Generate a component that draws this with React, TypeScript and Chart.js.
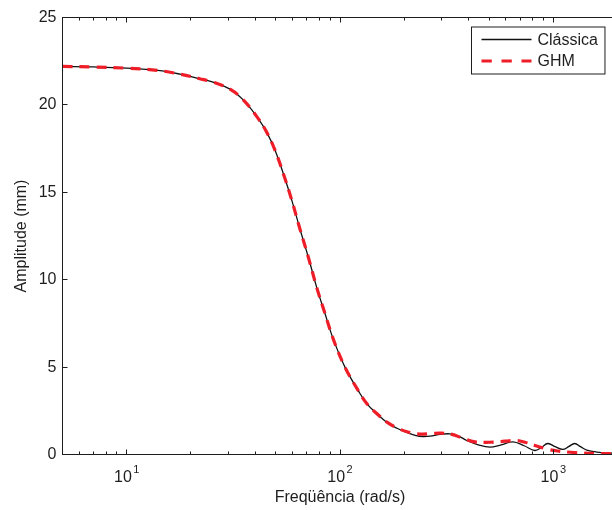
import React, { useEffect, useRef } from "react";
import { Chart, registerables } from "chart.js";

Chart.register(...registerables);

// ---- data ----
const classicaFreq = [
  5, 7, 10, 14, 17.8, 22, 25.4, 30.5, 35.1, 40.9, 45.5, 49.6, 54.3, 59.4, 64.9, 71, 77.8,
  85.1, 93, 105.5, 121.8, 133.8, 150, 166, 185, 206, 225, 245, 270, 294, 327.5, 360, 393,
  445, 504, 570, 646, 730, 819, 880, 942, 1020, 1108, 1180, 1261, 1340, 1436, 1600, 1879,
  2000,
];
const classicaAmp = [
  22.2, 22.17, 22.1, 21.97, 21.76, 21.5, 21.3, 20.9, 20.3, 19.3, 18.4, 17.4, 16.05, 14.55,
  12.9, 11.3, 9.55, 8.05, 6.6, 5.0, 3.65, 2.9, 2.3, 1.83, 1.5, 1.26, 1.1, 1.03, 1.07, 1.15,
  1.18, 1.05, 0.8, 0.55, 0.42, 0.55, 0.72, 0.5, 0.23, 0.4, 0.63, 0.45, 0.29, 0.45, 0.63,
  0.45, 0.25, 0.14, 0.08, 0.07,
];
const ghmFreq = [
  5, 7, 10, 14, 17.8, 22, 25.4, 30.5, 35.1, 40.9, 45.5, 49.6, 54.3, 59.4, 64.9, 71, 77.8,
  85.1, 93, 105.5, 121.8, 133.8, 150, 166, 185, 206, 225, 245, 270, 300, 335, 373, 429, 504,
  593, 675, 736, 819, 942, 1050, 1261, 1598, 2000,
];
const ghmAmp = [
  22.2, 22.17, 22.1, 21.97, 21.76, 21.5, 21.3, 20.9, 20.3, 19.3, 18.4, 17.4, 16.05, 14.55,
  12.9, 11.3, 9.55, 8.05, 6.6, 5.0, 3.65, 2.9, 2.3, 1.85, 1.52, 1.3, 1.2, 1.17, 1.2, 1.22,
  1.15, 0.95, 0.72, 0.7, 0.76, 0.8, 0.7, 0.52, 0.3, 0.2, 0.11, 0.06, 0.05,
];
const seriesLabels = ["Clássica", "GHM"];
const yTicks = [0, 5, 10, 15, 20, 25];
const xMajorTicks = [10, 100, 1000];
const xMinorTicks = [
  5, 6, 7, 8, 9, 20, 30, 40, 50, 60, 70, 80, 90, 200, 300, 400, 500, 600, 700, 800, 900, 2000,
];
const xTitle = "Freqüência (rad/s)";
const yTitle = "Amplitude (mm)";

const FONT = '"Liberation Sans", Arial, Helvetica, sans-serif';
const INK = "#1e1e1e";
const RED = "#ee1d27";

const matlabPlugin = {
  id: "matlabAxes",
  afterDatasetsDraw(chart: any) {
    const { ctx, chartArea: a, scales } = chart;
    const xs = scales.x;
    const ys = scales.y;
    ctx.save();
    ctx.strokeStyle = INK;
    ctx.lineWidth = 1;
    ctx.setLineDash([]);
    ctx.strokeRect(a.left, a.top, a.right - a.left, a.bottom - a.top);

    ctx.beginPath();
    for (const v of yTicks) {
      const py = Math.round(ys.getPixelForValue(v) - 0.5) + 0.5;
      ctx.moveTo(a.left, py);
      ctx.lineTo(a.left + 5, py);
      ctx.moveTo(a.right, py);
      ctx.lineTo(a.right - 5, py);
    }
    for (const v of xMajorTicks) {
      const px = Math.round(xs.getPixelForValue(v) - 0.5) + 0.5;
      ctx.moveTo(px, a.bottom);
      ctx.lineTo(px, a.bottom - 5);
      ctx.moveTo(px, a.top);
      ctx.lineTo(px, a.top + 5);
    }
    for (const v of xMinorTicks) {
      const px = Math.round(xs.getPixelForValue(v) - 0.5) + 0.5;
      ctx.moveTo(px, a.bottom);
      ctx.lineTo(px, a.bottom - 3);
      ctx.moveTo(px, a.top);
      ctx.lineTo(px, a.top + 3);
    }
    ctx.stroke();

    // x tick labels with superscript exponents
    ctx.fillStyle = INK;
    ctx.textBaseline = "alphabetic";
    ctx.textAlign = "left";
    for (const v of xMajorTicks) {
      const px = xs.getPixelForValue(v);
      const exp = String(Math.round(Math.log10(v)));
      ctx.font = `16px ${FONT}`;
      const bw = ctx.measureText("10").width;
      ctx.font = `11px ${FONT}`;
      const sw = ctx.measureText(exp).width;
      const start = px - (bw + 1.5 + sw) / 2;
      ctx.font = `16px ${FONT}`;
      ctx.fillText("10", start, a.bottom + 27);
      ctx.font = `11px ${FONT}`;
      ctx.fillText(exp, start + bw + 1.5, a.bottom + 18);
    }

    // legend
    ctx.font = `16px ${FONT}`;
    let tw = 0;
    for (const s of seriesLabels) tw = Math.max(tw, ctx.measureText(s).width);
    const boxW = 10 + 50 + 6 + tw + 7;
    const boxH = 47;
    const bx = Math.round(a.right - 13.5 - boxW) + 0.5;
    const by = a.top + 9.5;
    ctx.fillStyle = "#ffffff";
    ctx.fillRect(bx, by, boxW, boxH);
    ctx.strokeStyle = INK;
    ctx.lineWidth = 1;
    ctx.strokeRect(bx, by, boxW, boxH);
    const datasets = chart.data.datasets;
    for (let i = 0; i < datasets.length; i++) {
      const ds = datasets[i];
      const cy = by + 12.5 + i * 21.5;
      ctx.beginPath();
      ctx.strokeStyle = ds.borderColor;
      ctx.lineWidth = ds.borderWidth;
      ctx.setLineDash(ds.legendDash || []);
      ctx.lineCap = "butt";
      ctx.moveTo(bx + 10, cy);
      ctx.lineTo(bx + 60, cy);
      ctx.stroke();
      ctx.setLineDash([]);
      ctx.fillStyle = INK;
      ctx.textBaseline = "middle";
      ctx.fillText(ds.label, bx + 66, cy + 1);
    }
    ctx.restore();
  },
};

export default function App() {
  const ref = useRef<HTMLCanvasElement | null>(null);

  useEffect(() => {
    if (!ref.current) return;
    const chart = new Chart(ref.current, {
      type: "line",
      data: {
        datasets: [
          {
            label: seriesLabels[0],
            data: classicaFreq.map((f, i) => ({ x: f, y: classicaAmp[i] })),
            borderColor: "#111111",
            borderWidth: 1.3,
            pointRadius: 0,
            tension: 0.4,
            order: 1,
          } as any,
          {
            label: seriesLabels[1],
            data: ghmFreq.map((f, i) => ({ x: f, y: ghmAmp[i] })),
            borderColor: RED,
            borderWidth: 3.2,
            borderDash: [10, 7],
            legendDash: [10.3, 9.7],
            pointRadius: 0,
            tension: 0.4,
            order: 0,
          } as any,
        ],
      },
      options: {
        responsive: false,
        animation: false,
        layout: { padding: { left: 0, top: 17.5, right: 2.5, bottom: 0 } },
        plugins: {
          legend: { display: false },
          tooltip: { enabled: false },
        },
        scales: {
          x: {
            type: "logarithmic",
            min: 5,
            max: 2000,
            grid: { display: false },
            border: { display: false },
            ticks: { display: false },
            title: {
              display: true,
              text: xTitle,
              color: INK,
              font: { family: FONT, size: 16 },
              padding: { top: 0, bottom: 3 },
            },
            afterFit: (s: any) => {
              s.height = 55.5;
            },
          },
          y: {
            type: "linear",
            min: 0,
            max: 25,
            grid: { display: false, drawTicks: false },
            border: { display: false },
            afterBuildTicks: (s: any) => {
              s.ticks = yTicks.map((v) => ({ value: v }));
            },
            ticks: {
              color: INK,
              font: { family: FONT, size: 16 },
              padding: 6,
              callback: (v: any) => String(v),
            },
            title: {
              display: true,
              text: yTitle,
              color: INK,
              font: { family: FONT, size: 16 },
              padding: { top: 11.5, bottom: 0 },
            },
            afterFit: (s: any) => {
              s.width = 62.5;
            },
          },
        },
      },
      plugins: [matlabPlugin],
    });
    return () => chart.destroy();
  }, []);

  return (
    <div
      style={{
        position: "fixed",
        left: 0,
        top: 0,
        width: 612,
        height: 510,
        overflow: "hidden",
        background: "#ffffff",
      }}
    >
      <canvas ref={ref} width={620} height={510} style={{ display: "block", width: 620, height: 510 }} />
    </div>
  );
}
